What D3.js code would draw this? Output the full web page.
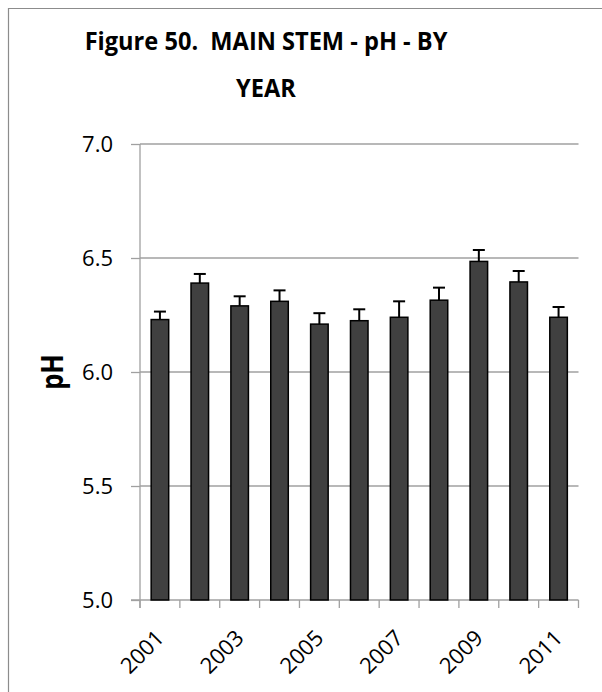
<!DOCTYPE html>
<html>
<head>
<meta charset="utf-8">
<script src="https://cdn.jsdelivr.net/npm/d3@7"></script>
<style>
  body { margin: 0; background: #fff; }
  svg { display: block; }
</style>
</head>
<body>
<div id="chart"></div>
<script>
// values
const years = ["2001", "2002", "2003", "2004", "2005", "2006", "2007", "2008", "2009", "2010", "2011"];
const meanPH = [6.23, 6.39, 6.29, 6.31, 6.21, 6.225, 6.24, 6.315, 6.485, 6.395, 6.24];
const errPH = [0.035, 0.04, 0.042, 0.048, 0.048, 0.05, 0.07, 0.055, 0.05, 0.048, 0.045];
const yTicks = [5.0, 5.5, 6.0, 6.5, 7.0];
const titleLines = ["Figure 50.  MAIN STEM - pH - BY", "YEAR"];

const width = 602, height = 692;
const margin = ({top: 144, right: 23, bottom: 92, left: 140});

const svg = d3.select("#chart").append("svg")
  .attr("width", width)
  .attr("height", height);

// chart frame (only top and left edges fall inside the view)
svg.append("path")
  .attr("d", `M8.5,${height} V8.5 H${width}`)
  .attr("fill", "none")
  .attr("stroke", "#8c8c8c")
  .attr("stroke-width", 1.2);

const x = d3.scaleBand()
  .domain(years)
  .range([margin.left, width - margin.right - 0.5])
  .paddingInner(0.56)
  .paddingOuter(0.28);

const y = d3.scaleLinear()
  .domain([5, 7])
  .range([height - margin.bottom, margin.top]);

// gridlines
svg.append("g")
  .selectAll("line")
  .data(yTicks.filter(d => d > 5))
  .join("line")
    .attr("x1", margin.left)
    .attr("x2", x.range()[1])
    .attr("y1", d => y(d))
    .attr("y2", d => y(d))
    .attr("stroke", "#a0a0a0")
    .attr("stroke-width", 1.3);

// y axis
const yAxis = g => g
  .attr("transform", `translate(${margin.left},0)`)
  .call(d3.axisLeft(y).tickValues(yTicks).tickFormat(d3.format(".1f")).tickSize(9).tickPadding(18))
  .call(g => g.select(".domain").attr("d", `M0,${y(7)}V${y(5) + 8}`))
  .call(g => g.selectAll("line, .domain").attr("stroke", "#a0a0a0").attr("stroke-width", 1.3))
  .call(g => g.selectAll("text")
      .attr("fill", "#000")
      .attr("font-family", "Open Sans, sans-serif")
      .attr("font-size", 22));

svg.append("g").call(yAxis);

// x axis: line and ticks on band boundaries
const step = x.step();
const bounds = years.map(d => x(d) - step * x.paddingInner() / 2).concat([x.range()[1]]);

const xg = svg.append("g");
xg.append("line")
  .attr("x1", margin.left - 9)
  .attr("x2", x.range()[1])
  .attr("y1", y(5))
  .attr("y2", y(5))
  .attr("stroke", "#a0a0a0")
  .attr("stroke-width", 1.3);
xg.selectAll("line.tick")
  .data(bounds)
  .join("line")
    .attr("class", "tick")
    .attr("x1", d => d)
    .attr("x2", d => d)
    .attr("y1", y(5))
    .attr("y2", y(5) + 8)
    .attr("stroke", "#a0a0a0")
    .attr("stroke-width", 1.3);
xg.selectAll("text")
  .data(years.filter((d, i) => i % 2 === 0))
  .join("text")
    .attr("transform", d => `translate(${x(d) + x.bandwidth() / 2},${y(5) + 34}) rotate(-45)`)
    .attr("text-anchor", "end")
    .attr("dy", "0.35em")
    .attr("font-family", "Open Sans, sans-serif")
    .attr("font-size", 22)
    .text(d => d);

// bars
svg.append("g")
  .selectAll("rect")
  .data(years)
  .join("rect")
    .attr("x", d => x(d))
    .attr("y", (d, i) => y(meanPH[i]))
    .attr("width", x.bandwidth())
    .attr("height", (d, i) => y(5) - y(meanPH[i]))
    .attr("fill", "#404040")
    .attr("stroke", "#000")
    .attr("stroke-width", 1.5);

// error bars (upper only)
const err = svg.append("g")
  .attr("stroke", "#000")
  .attr("stroke-width", 2);
err.selectAll("line.stem")
  .data(years)
  .join("line")
    .attr("class", "stem")
    .attr("x1", d => x(d) + x.bandwidth() / 2)
    .attr("x2", d => x(d) + x.bandwidth() / 2)
    .attr("y1", (d, i) => y(meanPH[i]))
    .attr("y2", (d, i) => y(meanPH[i] + errPH[i]));
err.selectAll("line.cap")
  .data(years)
  .join("line")
    .attr("class", "cap")
    .attr("x1", d => x(d) + x.bandwidth() / 2 - 6)
    .attr("x2", d => x(d) + x.bandwidth() / 2 + 6)
    .attr("y1", (d, i) => y(meanPH[i] + errPH[i]))
    .attr("y2", (d, i) => y(meanPH[i] + errPH[i]));

// y axis title
svg.append("text")
  .attr("transform", `translate(63,372) rotate(-90) scale(0.85,1)`)
  .attr("text-anchor", "middle")
  .attr("font-family", "Open Sans, sans-serif")
  .attr("font-weight", "bold")
  .attr("font-size", 30)
  .text("pH");

// chart title, squeezed horizontally to the narrow face of the reference
const titleG = svg.append("g");
const title = titleG.append("text")
  .attr("text-anchor", "middle")
  .attr("font-family", "Open Sans, sans-serif")
  .attr("font-weight", "bold")
  .style("white-space", "pre")
  .attr("font-size", 25);
title.selectAll("tspan")
  .data(titleLines)
  .join("tspan")
    .attr("x", 0)
    .attr("y", (d, i) => 50 + i * 47)
    .text(d => d);

const w = title.select("tspan").node().getComputedTextLength();
titleG.attr("transform", `translate(266,0) scale(${363 / w},1)`);
</script>
</body>
</html>
